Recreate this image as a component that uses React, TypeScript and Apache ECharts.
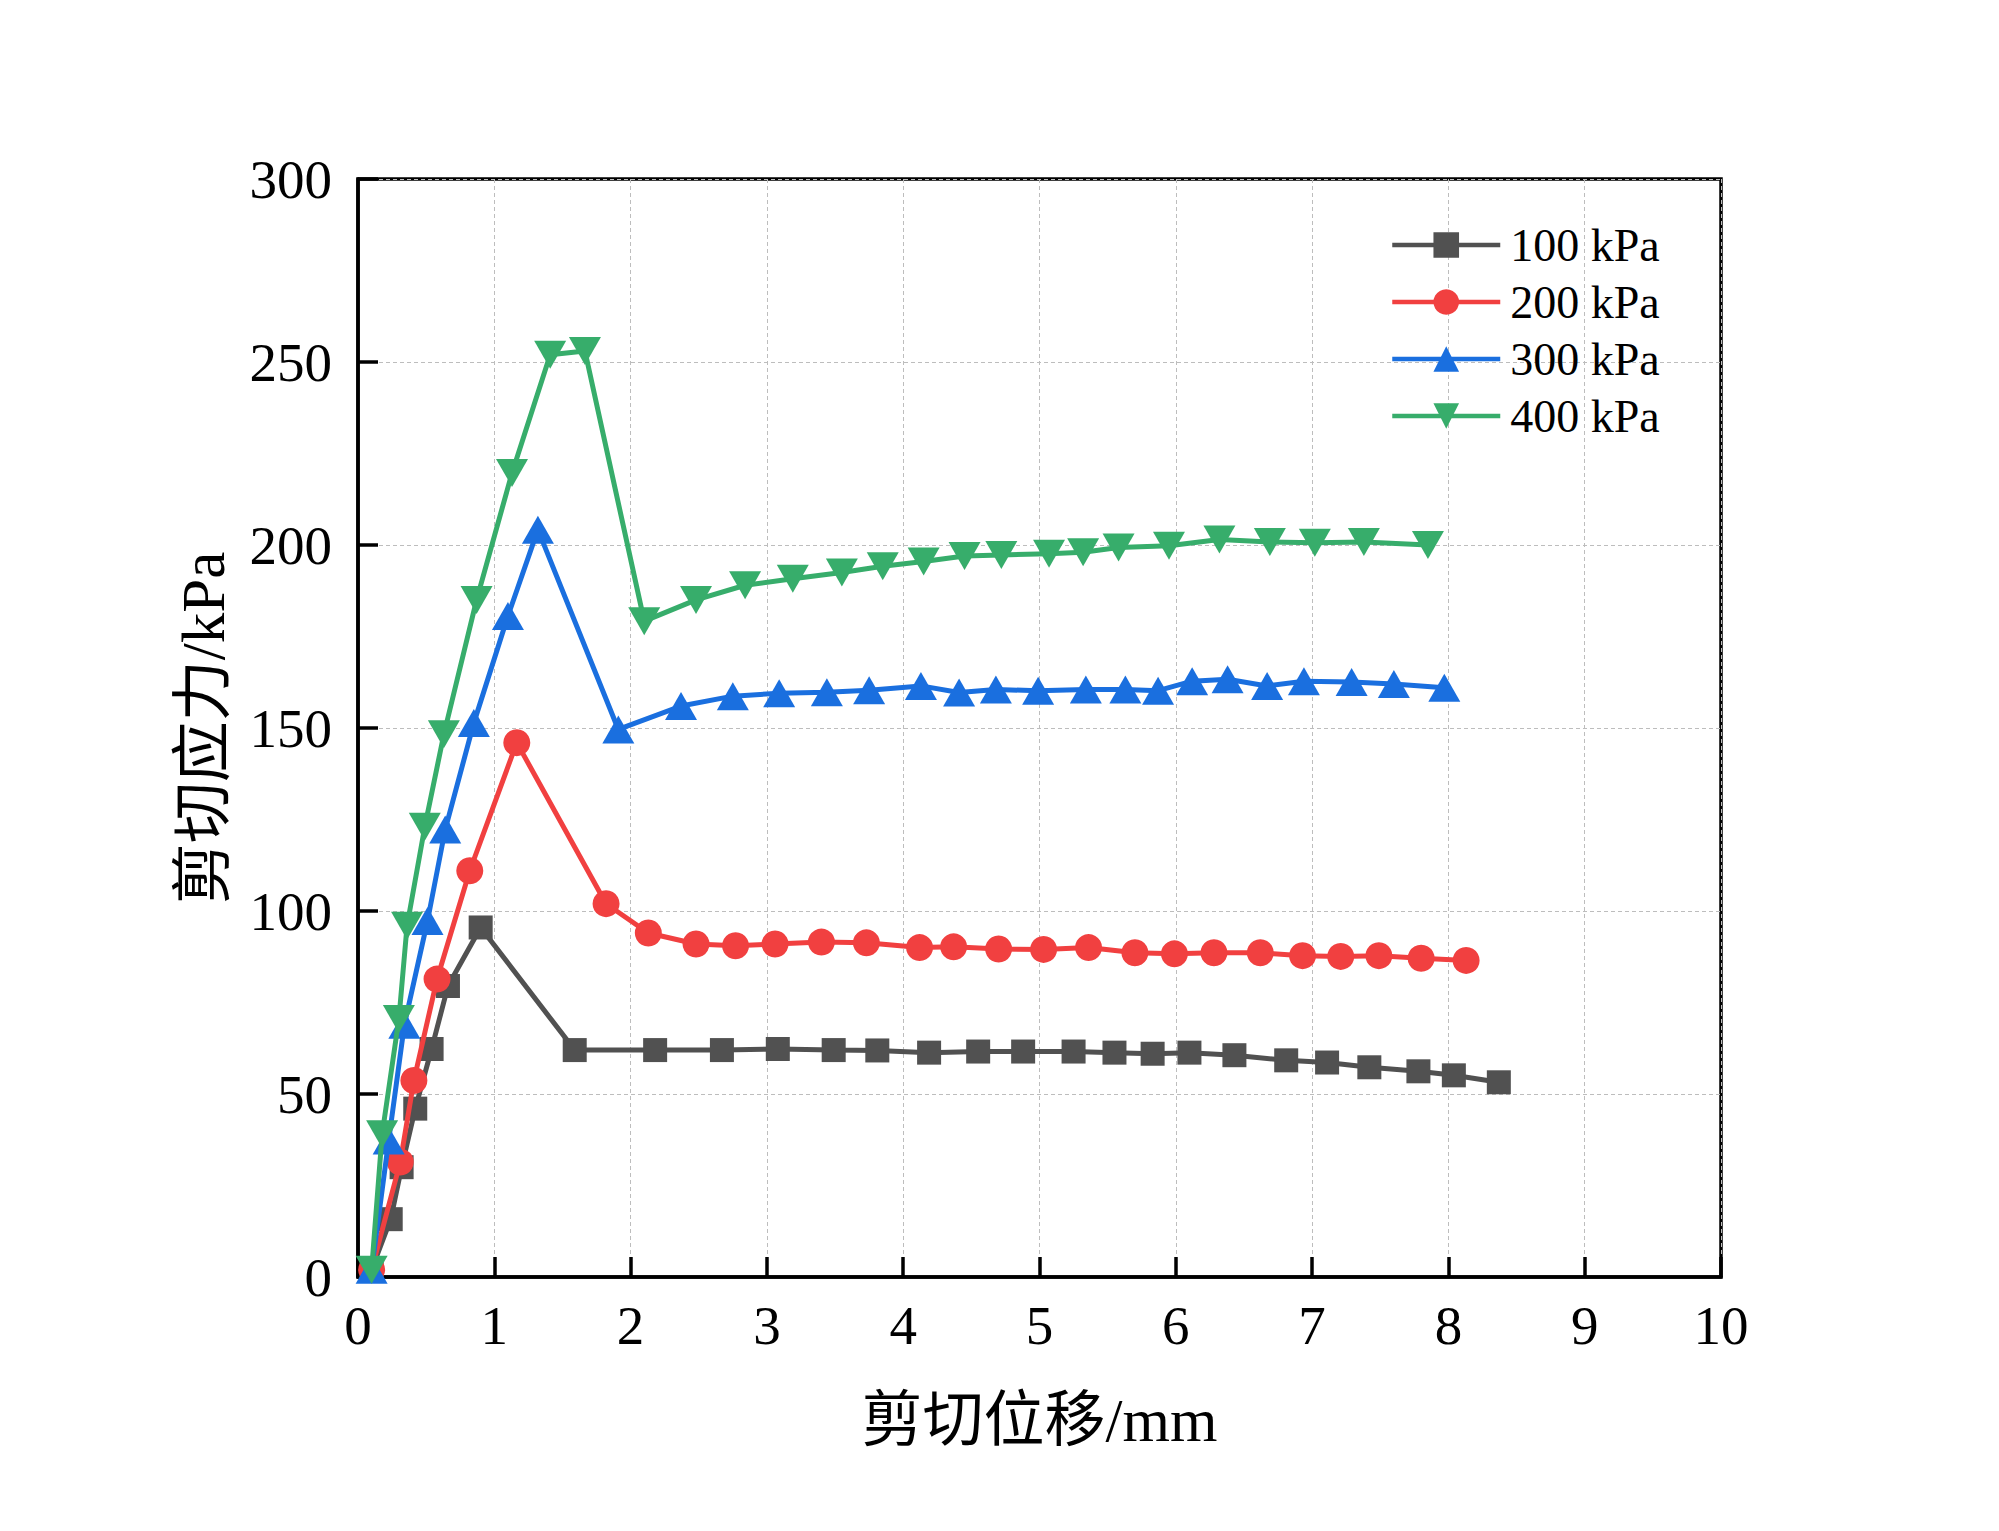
import React, { useEffect, useRef } from "react";
import * as echarts from "echarts";

const seriesNames = ["100 kPa", "200 kPa", "300 kPa", "400 kPa"];
const seriesColors = ["#515151", "#F14040", "#1A6FDF", "#37AD6B"];

const x100 = [0.1, 0.24, 0.32, 0.42, 0.54, 0.66, 0.9, 1.59, 2.18, 2.67, 3.08, 3.49, 3.81, 4.19, 4.55, 4.88, 5.25, 5.55, 5.83, 6.1, 6.43, 6.81, 7.11, 7.42, 7.78, 8.04, 8.37];
const y100 = [2, 15.8, 30, 46, 62.3, 79.5, 95.5, 62, 62, 62, 62.3, 62, 61.9, 61.3, 61.6, 61.6, 61.6, 61.3, 61, 61.3, 60.6, 59.2, 58.6, 57.3, 56.2, 55.1, 53.2];

const x200 = [0.1, 0.31, 0.41, 0.58, 0.82, 1.165, 1.82, 2.13, 2.48, 2.77, 3.06, 3.4, 3.73, 4.12, 4.37, 4.7, 5.03, 5.36, 5.7, 5.99, 6.28, 6.62, 6.93, 7.21, 7.49, 7.8, 8.13];
const y200 = [2, 31.4, 53.7, 81.4, 111, 146, 102, 94, 91, 90.5, 91, 91.5, 91.3, 90, 90.2, 89.6, 89.5, 90, 88.6, 88.3, 88.6, 88.6, 87.8, 87.6, 87.8, 87.1, 86.5];

const x300 = [0.1, 0.225, 0.34, 0.51, 0.64, 0.85, 1.1, 1.32, 1.91, 2.37, 2.75, 3.09, 3.44, 3.75, 4.13, 4.41, 4.68, 4.99, 5.34, 5.63, 5.87, 6.12, 6.38, 6.67, 6.94, 7.29, 7.6, 7.97];
const y300 = [2, 37.3, 68.9, 97.3, 122.3, 151.4, 180.6, 204.2, 149.6, 156, 158.7, 159.5, 159.8, 160.3, 161.5, 159.7, 160.5, 160.2, 160.5, 160.5, 160.2, 162.8, 163.3, 161.5, 162.8, 162.6, 162, 161];

const x400 = [0.1, 0.177, 0.3, 0.36, 0.49, 0.63, 0.87, 1.13, 1.41, 1.665, 2.1, 2.48, 2.84, 3.19, 3.55, 3.85, 4.15, 4.45, 4.72, 5.07, 5.32, 5.58, 5.95, 6.32, 6.69, 7.02, 7.38, 7.85];
const y400 = [2, 39, 70.5, 96, 123, 148.3, 185, 219.7, 252, 253, 179.2, 185, 189, 190.8, 192.5, 194.2, 195.5, 197, 197.3, 197.6, 198, 199.3, 199.8, 201.5, 200.8, 200.6, 200.8, 200];

const xTitle = "剪切位移/mm";
const yTitle = "剪切应力/kPa";

const FONT = "'Times New Roman', 'Liberation Serif', 'Noto Sans CJK SC', serif";

function pairs(xs: number[], ys: number[]) {
  return xs.map((x, i) => [x, ys[i]]);
}

export default function App() {
  const ref = useRef<HTMLDivElement>(null);
  useEffect(() => {
    if (!ref.current) return;
    const chart = echarts.init(ref.current, null, { renderer: "svg" });
    const symbols = ["rect", "circle", "triangle", "triangle"];
    const sizes: any[] = [24, 27, [32, 28], [32, 28]];
    const rotates = [0, 0, 0, 180];
    const datas = [pairs(x100, y100), pairs(x200, y200), pairs(x300, y300), pairs(x400, y400)];
    const gridLine = { show: true, lineStyle: { color: "#bdbdbd", width: 1, type: [4, 3] as any } };
    chart.setOption({
      animation: false,
      backgroundColor: "#ffffff",
      grid: {
        left: 358,
        top: 179,
        right: 278,
        bottom: 254,
        show: true,
        borderColor: "#000",
        borderWidth: 3.5,
        backgroundColor: "transparent",
      },
      legend: {
        orient: "vertical",
        left: 1390,
        top: 222,
        padding: 0,
        itemWidth: 108,
        itemHeight: 32,
        itemGap: 11,
        data: seriesNames,
        lineStyle: { width: 4.5 },
        textStyle: { fontFamily: FONT, fontSize: 46, color: "#000", padding: [0, 0, 0, 5] },
      },
      xAxis: {
        type: "value",
        min: 0,
        max: 10,
        interval: 1,
        name: xTitle,
        nameLocation: "middle",
        nameGap: 113,
        nameTextStyle: { fontFamily: FONT, fontSize: 61, color: "#000" },
        axisLine: { show: true, onZero: false, lineStyle: { color: "#000", width: 3.5 } },
        axisTick: { show: true, inside: true, length: 20, lineStyle: { color: "#000", width: 3.5 } },
        axisLabel: { fontFamily: FONT, fontSize: 55, color: "#000", margin: 21 },
        splitLine: gridLine,
      },
      yAxis: {
        type: "value",
        min: 0,
        max: 300,
        interval: 50,
        name: yTitle,
        nameLocation: "middle",
        nameGap: 124,
        nameTextStyle: { fontFamily: FONT, fontSize: 61, color: "#000" },
        axisLine: { show: true, onZero: false, lineStyle: { color: "#000", width: 3.5 } },
        axisTick: { show: true, inside: true, length: 20, lineStyle: { color: "#000", width: 3.5 } },
        axisLabel: { fontFamily: FONT, fontSize: 55, color: "#000", margin: 26 },
        splitLine: gridLine,
      },
      series: seriesNames.map((name, i) => ({
        name,
        type: "line",
        data: datas[i],
        symbol: symbols[i],
        symbolSize: sizes[i],
        symbolRotate: rotates[i],
        showAllSymbol: true,
        lineStyle: { color: seriesColors[i], width: 5 },
        itemStyle: { color: seriesColors[i], borderWidth: 0 },
        emphasis: { disabled: true },
        z: 2 + i,
      })),
    });
    return () => chart.dispose();
  }, []);
  return (
    <div
      ref={ref}
      style={{ position: "absolute", left: 0, top: 0, width: 1999, height: 1531, background: "#fff" }}
    />
  );
}
